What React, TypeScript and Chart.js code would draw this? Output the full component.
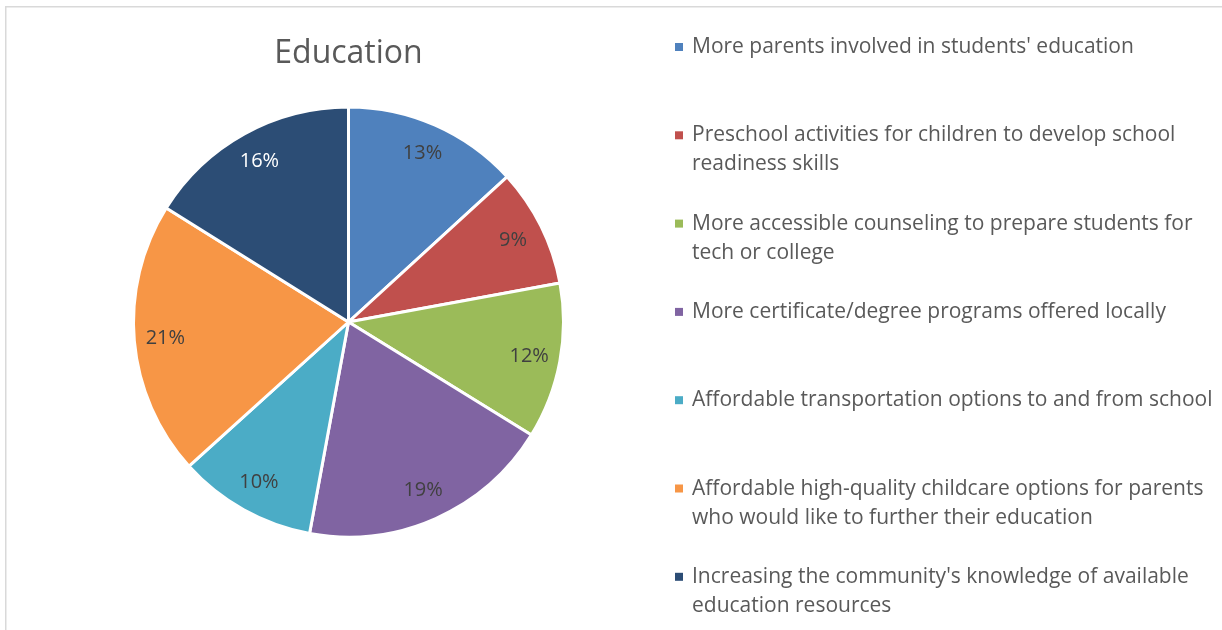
import React, { useEffect, useRef } from "react";
import { Chart, registerables } from "chart.js";

Chart.register(...registerables);

const TITLE = "Education";

const categories: string[] = [
  "More parents involved in students' education",
  "Preschool activities for children to develop school readiness skills",
  "More accessible counseling to prepare students for tech or college",
  "More certificate/degree programs offered locally",
  "Affordable transportation options to and from school",
  "Affordable high-quality childcare options for parents who would like to further their education",
  "Increasing the community's knowledge of available education resources",
];

const values: number[] = [13.2, 8.9, 11.7, 19.1, 10.4, 20.6, 16.1];

const sliceColors: string[] = [
  "#4F81BD",
  "#C0504D",
  "#9BBB59",
  "#8064A2",
  "#4BACC6",
  "#F79646",
  "#2C4D75",
];

const labelColors: string[] = [
  "#404040",
  "#404040",
  "#404040",
  "#404040",
  "#404040",
  "#404040",
  "#FFFFFF",
];

const FONT = "'Open Sans', 'Noto Sans', sans-serif";

function wrapText(ctx: CanvasRenderingContext2D, text: string, maxW: number): string[] {
  const words = text.split(" ");
  const lines: string[] = [];
  let cur = "";
  for (const w of words) {
    const test = cur ? cur + " " + w : w;
    if (ctx.measureText(test).width > maxW && cur) {
      lines.push(cur);
      cur = w;
    } else {
      cur = test;
    }
  }
  if (cur) lines.push(cur);
  return lines;
}

const overlayPlugin = {
  id: "overlay",
  afterDraw(chart: any) {
    const ctx: CanvasRenderingContext2D = chart.ctx;
    ctx.save();

    // outer frame (top + left visible)
    ctx.strokeStyle = "#D9D9D9";
    ctx.lineWidth = 1.5;
    ctx.beginPath();
    ctx.moveTo(5.75, 630);
    ctx.lineTo(5.75, 6.75);
    ctx.lineTo(1222, 6.75);
    ctx.stroke();

    const meta = chart.getDatasetMeta(0);
    const first = meta.data[0];
    const cx = first ? first.x : 348;

    // title
    ctx.fillStyle = "#595959";
    ctx.font = `32px ${FONT}`;
    ctx.textAlign = "center";
    ctx.textBaseline = "alphabetic";
    ctx.fillText(TITLE, cx, 63);

    // data labels
    const total = values.reduce((a, b) => a + b, 0);
    ctx.font = `20px ${FONT}`;
    ctx.textAlign = "center";
    ctx.textBaseline = "middle";
    meta.data.forEach((arc: any, i: number) => {
      const p = arc.getProps(["x", "y", "startAngle", "endAngle", "outerRadius"], true);
      const mid = (p.startAngle + p.endAngle) / 2;
      const r = p.outerRadius * 0.855;
      const lx = p.x + Math.cos(mid) * r;
      const ly = p.y + Math.sin(mid) * r;
      ctx.fillStyle = labelColors[i];
      ctx.fillText(Math.round((values[i] / total) * 100) + "%", lx, ly);
    });

    // legend
    ctx.font = `21px ${FONT}`;
    ctx.textAlign = "left";
    ctx.textBaseline = "alphabetic";
    const textX = 692;
    const firstBaseline = 53;
    const step = 88.3;
    const lineH = 29;
    categories.forEach((label, i) => {
      const base = firstBaseline + i * step;
      ctx.fillStyle = sliceColors[i];
      ctx.fillRect(675, base - 10, 8, 8);
      ctx.fillStyle = "#595959";
      const lines = wrapText(ctx, label, 528);
      lines.forEach((ln, j) => ctx.fillText(ln, textX, base + j * lineH));
    });

    ctx.restore();
  },
};

export default function App() {
  const ref = useRef<HTMLCanvasElement | null>(null);

  useEffect(() => {
    if (!ref.current) return;
    const chart = new Chart(ref.current, {
      type: "pie",
      data: {
        labels: categories,
        datasets: [
          {
            data: values,
            backgroundColor: sliceColors,
            borderColor: "#FFFFFF",
            borderWidth: 3,
          },
        ],
      },
      options: {
        responsive: false,
        animation: false,
        radius: 215,
        layout: { padding: { left: 0, right: 525, top: 14, bottom: 0 } },
        plugins: {
          legend: { display: false },
          title: { display: false },
          tooltip: { enabled: false },
        },
      } as any,
      plugins: [overlayPlugin],
    });
    return () => chart.destroy();
  }, []);

  return (
    <div style={{ position: "fixed", left: 0, top: 0, width: 1222, height: 630, background: "#FFFFFF" }}>
      <canvas ref={ref} width={1222} height={630} style={{ display: "block", width: 1222, height: 630 }} />
    </div>
  );
}
